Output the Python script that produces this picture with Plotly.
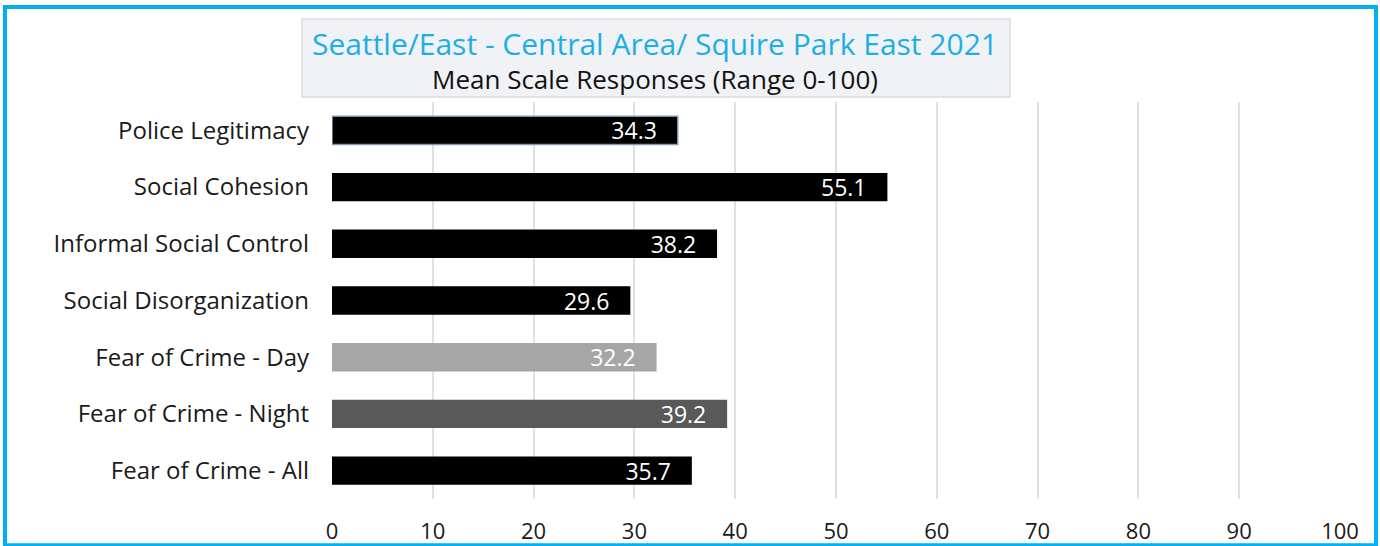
import plotly.graph_objects as go

# data, top to bottom as in the chart
categories = [
    'Police Legitimacy',
    'Social Cohesion',
    'Informal Social Control',
    'Social Disorganization',
    'Fear of Crime - Day',
    'Fear of Crime - Night',
    'Fear of Crime - All',
]
means = [34.3, 55.1, 38.2, 29.6, 32.2, 39.2, 35.7]
bar_colors = ['#000000', '#000000', '#000000', '#000000', '#a6a6a6', '#595959', '#000000']
x_ticks = [0, 10, 20, 30, 40, 50, 60, 70, 80, 90, 100]

title_main = 'Seattle/East - Central Area/ Squire Park East 2021'
title_sub = 'Mean Scale Responses (Range 0-100)'

FONT = 'Open Sans'

# the page comes out squeezed vertically, so lay it out on a slightly taller canvas
S = 546 / 535

# plot area in (reference) pixels: x 332..1340, y 100..497
W, H = 1380, round(546 * S)
L, R = 332, 40
T, B = round(100 * S), H - round(497 * S)
pw, ph = W - L - R, H - T - B


def px_x(p):
    return (p - L) / pw


def px_y(p):
    return (H - B - p * S) / ph


pad = '\u00a0' * 3  # keeps the value labels a little off the bar ends

fig = go.Figure(go.Bar(
    x=means,
    y=categories,
    orientation='h',
    width=0.5,
    marker=dict(
        color=bar_colors,
        line=dict(color=['#8497b0'] + ['rgba(0,0,0,0)'] * (len(means) - 1), width=1.5),
    ),
    text=[f'{v:.1f}{pad}' for v in means],
    textposition='inside',
    insidetextanchor='end',
    constraintext='none',
    textfont=dict(color='white', size=23, family=FONT),
    hovertemplate='<b>%{y}</b><br>%{x}<extra></extra>',
))

fig.update_layout(
    width=W,
    height=H,
    autosize=False,
    margin=dict(l=L, r=R, t=T, b=B),
    paper_bgcolor='white',
    plot_bgcolor='white',
    font=dict(family=FONT, color='#1a1a1a'),
    showlegend=False,
    xaxis=dict(
        range=[0, 100],
        tickvals=x_ticks,
        showgrid=True,
        gridcolor='#dde1ea',
        gridwidth=2,
        zeroline=False,
        showline=False,
        tickfont=dict(size=22, color='#1a1a1a'),
        ticklabelstandoff=17,
        fixedrange=True,
    ),
    yaxis=dict(
        autorange='reversed',
        showgrid=False,
        zeroline=False,
        showline=False,
        tickfont=dict(size=24, color='#1a1a1a'),
        ticklabelstandoff=22,
        fixedrange=True,
    ),
    bargap=0.5,
    shapes=[
        # outer blue frame
        dict(type='rect', xref='paper', yref='paper',
             x0=px_x(5), x1=px_x(1376), y0=px_y(543), y1=px_y(5),
             line=dict(color='#00b0f0', width=4), fillcolor='rgba(0,0,0,0)', layer='above'),
        # title box
        dict(type='rect', xref='paper', yref='paper',
             x0=px_x(302), x1=px_x(1010), y0=px_y(95), y1=px_y(17),
             line=dict(color='#d9dce2', width=1.5), fillcolor='#f0f2f6', layer='below'),
    ],
    annotations=[
        dict(text=(f"<span style='font-size:30px;color:#1eaee6'>{title_main}</span>"
                   f"<br>{title_sub}"),
             xref='paper', yref='paper',
             x=px_x(655), y=px_y(58), xanchor='center', yanchor='middle',
             showarrow=False, font=dict(size=26, color='#111111', family=FONT)),
    ],
)

# drop the browser's default body margin so the figure sits at the page corner
fig.write_html(
    'out.html',
    config=dict(displayModeBar=False, responsive=False),
    post_script="document.body.style.margin='0';document.body.style.overflow='hidden';",
)
